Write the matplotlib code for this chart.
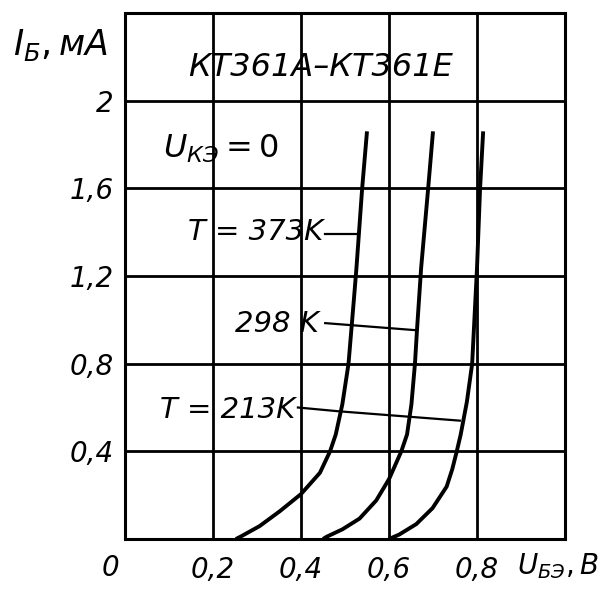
import matplotlib
matplotlib.use("Agg")
import matplotlib.pyplot as plt

plt.rcParams['mathtext.fontset'] = 'dejavusans'

# base-emitter input characteristics (U in V, I in mA)
u_373 = [0.252, 0.262, 0.306, 0.352, 0.40, 0.443, 0.466, 0.479, 0.494, 0.508, 0.52, 0.526, 0.539, 0.55]
i_373 = [0.0, 0.01, 0.059, 0.127, 0.205, 0.302, 0.40, 0.477, 0.615, 0.80, 1.088, 1.236, 1.60, 1.86]

u_298 = [0.45, 0.458, 0.494, 0.533, 0.571, 0.60, 0.628, 0.641, 0.651, 0.659, 0.664, 0.673, 0.689, 0.70]
i_298 = [0.0, 0.01, 0.044, 0.093, 0.176, 0.273, 0.40, 0.477, 0.615, 0.80, 0.966, 1.236, 1.60, 1.86]

u_213 = [0.60, 0.623, 0.662, 0.699, 0.731, 0.744, 0.754, 0.763, 0.777, 0.789, 0.80, 0.807, 0.814]
i_213 = [0.0, 0.02, 0.068, 0.141, 0.239, 0.32, 0.40, 0.477, 0.626, 0.80, 1.236, 1.60, 1.86]

x_ticks = [0.2, 0.4, 0.6, 0.8]
x_labels = ["0,2", "0,4", "0,6", "0,8"]
y_ticks = [0.4, 0.8, 1.2, 1.6, 2.0]
y_labels = ["0,4", "0,8", "1,2", "1,6", "2"]

W, H = 601, 591
fig = plt.figure(figsize=(W / 100, H / 100), dpi=100)
ax = fig.add_axes([125 / W, 1 - 539 / H, 440 / W, 526 / H])

ax.set_xlim(0, 1.0)
ax.set_ylim(0, 2.4)

font = dict(family="DejaVu Sans", style="italic", color="black")

ax.set_xticks(x_ticks)
ax.set_xticklabels(x_labels, fontsize=20, **font)
ax.set_yticks(y_ticks)
ax.set_yticklabels(y_labels, fontsize=20, **font)
ax.tick_params(length=0)
ax.tick_params(axis="x", pad=12)
ax.tick_params(axis="y", pad=8)
ax.grid(True, color="black", linewidth=2.0)
ax.set_axisbelow(True)
for sp in ax.spines.values():
    sp.set_linewidth(2.2)

# curves
for u, i in [(u_373, i_373), (u_298, i_298), (u_213, i_213)]:
    ax.plot(u, i, color="black", linewidth=2.8, solid_capstyle="butt",
            solid_joinstyle="round")

# leader lines
ax.plot([0.455, 0.53], [1.39, 1.39], color="black", linewidth=1.6)
ax.plot([0.455, 0.659], [0.985, 0.953], color="black", linewidth=1.6)
ax.plot([0.393, 0.484, 0.761], [0.60, 0.583, 0.54], color="black", linewidth=1.6)

# annotations
ax.text(0.445, 2.15, "КТ361А–КТ361Е", fontsize=23, ha="center", va="center", **font)
ax.text(0.086, 1.78, r"$\mathit{U}_{\mathit{КЭ}}\mathit{=0}$", fontsize=23,
        ha="left", va="center", color="black")
ax.text(0.45, 1.40, "T = 373K", fontsize=21, ha="right", va="center", **font)
ax.text(0.44, 0.98, "298 K", fontsize=21, ha="right", va="center", **font)
ax.text(0.386, 0.59, "T = 213K", fontsize=21, ha="right", va="center", **font)

# axis titles and origin label
fig.text(13 / W, 1 - 45 / H, r"$\mathit{I}_{\mathit{Б}}\mathit{,мА}$", fontsize=25,
         ha="left", va="center", color="black")
fig.text(110 / W, 1 - 568 / H, "0", fontsize=20, ha="center", va="center", **font)
fig.text(517 / W, 1 - 566 / H, r"$\mathit{U}_{\mathit{БЭ}}\mathit{,В}$", fontsize=20,
         ha="left", va="center", color="black")

fig.savefig("out.png", dpi=100)
